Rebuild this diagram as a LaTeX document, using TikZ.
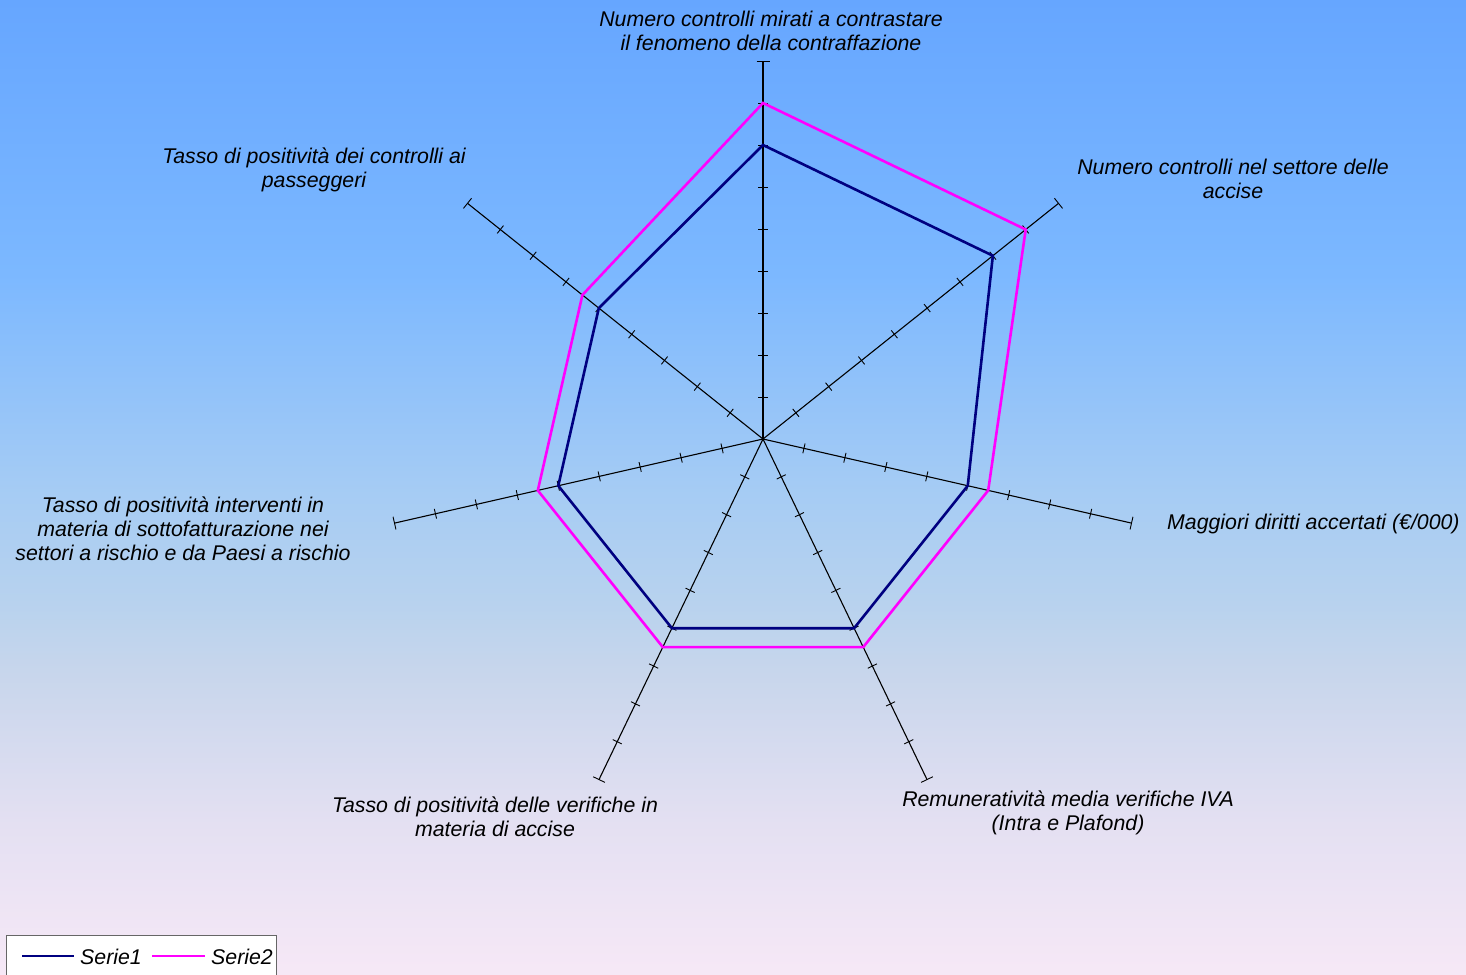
\documentclass[tikz,border=0pt]{standalone}
\usepackage{fontspec}
\setmainfont{Liberation Sans}
\definecolor{serieone}{RGB}{0,0,128}
\definecolor{serietwo}{RGB}{255,0,255}
\pgfdeclareverticalshading{bgshade}{100bp}{%
  rgb(0bp)=(0.965,0.910,0.965);
  rgb(25bp)=(0.965,0.910,0.965);
  rgb(32.70bp)=(0.894,0.878,0.949);
  rgb(40.40bp)=(0.784,0.839,0.925);
  rgb(43.99bp)=(0.722,0.824,0.933);
  rgb(49.64bp)=(0.651,0.800,0.957);
  rgb(60.93bp)=(0.486,0.722,1.0);
  rgb(75bp)=(0.400,0.651,1.0);
  rgb(100bp)=(0.400,0.651,1.0)}
\tikzset{
  axisline/.style={draw=black, line width=1.1pt},
  tickline/.style={draw=black, line width=0.9pt},
  serieoneline/.style={draw=serieone, line width=2.6pt, line join=miter},
  serietwoline/.style={draw=serietwo, line width=2.6pt, line join=miter},
  lbl/.style={font=\fontsize{21.3}{24}\selectfont\itshape, align=center, inner sep=0pt, text=black},
  legendbox/.style={draw=black!60, fill=white, line width=0.8pt}
}
\begin{document}
\begin{tikzpicture}[x=1pt,y=-1pt]
\useasboundingbox (0,0) rectangle (1466,974);
\shade[shading=bgshade] (0,0) rectangle (1466,974);
\coordinate (C) at (763,439);
% axes and ticks
\foreach \i in {0,...,6}{
  \pgfmathsetmacro\a{90-\i*360/7}
  \coordinate (A\i) at ({763+378*cos(\a)},{439-378*sin(\a)});
  \draw[axisline] (C) -- (A\i);
  \foreach \k in {1,...,9}{
    \pgfmathsetmacro\h{\k==9 ? 6.5 : 5}
    \coordinate (T\i-\k-a) at ({763+42*\k*cos(\a)-\h*sin(\a)},{439-42*\k*sin(\a)-\h*cos(\a)});
    \coordinate (T\i-\k-b) at ({763+42*\k*cos(\a)+\h*sin(\a)},{439-42*\k*sin(\a)+\h*cos(\a)});
    \draw[tickline] (T\i-\k-a) -- (T\i-\k-b);
  }
}
% series points
\foreach \i/\u/\w in {0/7/8,1/7/8,2/5/5.5,3/5/5.5,4/5/5.5,5/5/5.5,6/5/5.5}{
  \pgfmathsetmacro\a{90-\i*360/7}
  \coordinate (P\i) at ({763+42*\u*cos(\a)},{439-42*\u*sin(\a)});
  \coordinate (Q\i) at ({763+42*\w*cos(\a)},{439-42*\w*sin(\a)});
}
\draw[serieoneline] (P0) -- (P1) -- (P2) -- (P3) -- (P4) -- (P5) -- (P6) -- cycle;
\draw[serietwoline] (Q0) -- (Q1) -- (Q2) -- (Q3) -- (Q4) -- (Q5) -- (Q6) -- cycle;
% labels
\node[lbl] (L0) at (771,31) {Numero controlli mirati a contrastare\\il fenomeno della contraffazione};
\node[lbl] (L1) at (1233,179) {Numero controlli nel settore delle\\accise};
\node[lbl, anchor=west] (L2) at (1167,524) {Maggiori diritti accertati (€/000)};
\node[lbl] (L3) at (1068,813) {Remuneratività media verifiche IVA\\(Intra e Plafond)};
\node[lbl] (L4) at (495,817) {Tasso di positività delle verifiche in\\materia di accise};
\node[lbl] (L5) at (183,529) {Tasso di positività interventi in\\materia di sottofatturazione nei\\settori a rischio e da Paesi a rischio};
\node[lbl] (L6) at (314,170) {Tasso di positività dei controlli ai\\passeggeri};
% legend
\draw[legendbox] (6,935) rectangle (276,985);
\coordinate (LA1) at (22,956);
\coordinate (LB1) at (74,956);
\coordinate (LA2) at (152,956);
\coordinate (LB2) at (205,956);
\draw[serieoneline] (LA1) -- (LB1);
\draw[serietwoline] (LA2) -- (LB2);
\node[lbl, anchor=west] (K1) at (80,957) {Serie1};
\node[lbl, anchor=west] (K2) at (211,957) {Serie2};
\end{tikzpicture}
\end{document}
